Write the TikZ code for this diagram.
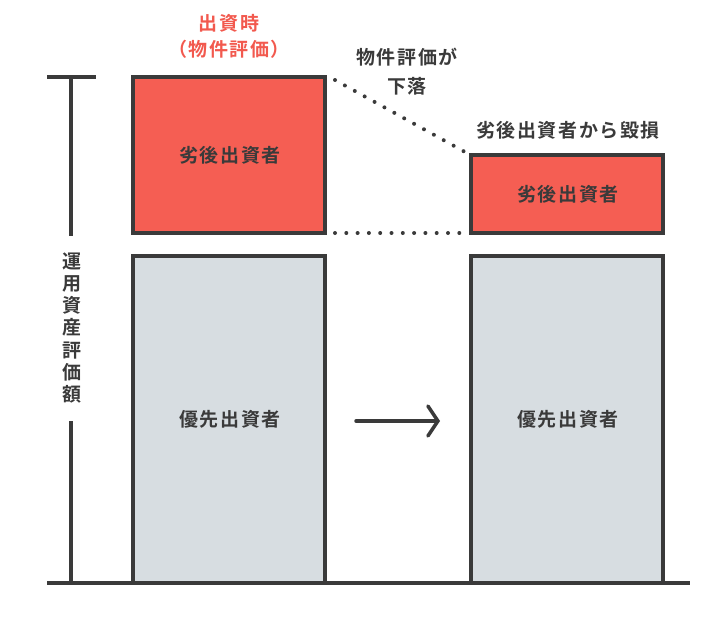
\documentclass[tikz,border=0pt]{standalone}
\usepackage{fontspec}
\setmainfont{Noto Sans CJK JP}[BoldFont={Noto Sans CJK JP Bold}, LetterSpace=8]
\usepackage{tikz}
\usetikzlibrary{calc, arrows.meta}

\definecolor{ink}{HTML}{3A3A3A}
\definecolor{subred}{HTML}{F55E53}
\definecolor{titlered}{HTML}{F2594E}
\definecolor{sengray}{HTML}{D7DDE1}

\tikzset{
  bar/.style={draw=ink, line width=4pt},
  lbl/.style={font=\fontsize{19}{22}\selectfont\bfseries, text=ink, align=center},
  dots/.style={ink, line width=4pt, line cap=round, dash pattern=on 0pt off 11.3pt}
}

\begin{document}
\begin{tikzpicture}[x=1pt, y=-1pt]
            \useasboundingbox (0,0) rectangle (728,618);
            % corners of the blocks
            \coordinate (A) at (133,77);
            \coordinate (B) at (325,233);
            \coordinate (C) at (471,155);
            \coordinate (D) at (663,233);
            \coordinate (E) at (133,256);
            \coordinate (F) at (325,583);
            \coordinate (G) at (471,256);
            \coordinate (H) at (663,583);
            \filldraw[bar, fill=subred] (A) rectangle (B);
            \filldraw[bar, fill=sengray] (E) rectangle (F);
            \filldraw[bar, fill=subred] (C) rectangle (D);
            \filldraw[bar, fill=sengray] (G) rectangle (H);
            \node[lbl] (sub1) at ($(A)!0.5!(B)+(1,0)$) {劣後出資者};
            \node[lbl] (sub2) at ($(C)!0.5!(D)+(1,0)$) {劣後出資者};
            \node[lbl] (sen1) at ($(E)!0.5!(F)+(1,0)$) {優先出資者};
            \node[lbl] (sen2) at ($(G)!0.5!(H)+(1,0)$) {優先出資者};
            % axis
            \coordinate (T) at (71,77);
            \coordinate (O) at (71,583);
            \draw[bar] (47,77) -- (96,77);
            \node[lbl, inner sep=0pt, font=\fontsize{19}{22.2}\selectfont\bfseries] (axis) at (72,328) {運\\用\\資\\産\\評\\価\\額};
            \draw[bar] (T) -- (71,236);
            \draw[bar] (71,421) -- (O);
            \draw[bar] (47,583) -- (690,583);
            % dotted guides
            \draw[dots] ($(A)+(202,3)$) -- ($(C)+(-6,-3)$);
            \draw[dots] ($(B)+(10,0)$) -- ($(C|-D)+(-6,0)$);
            % arrow
            \coordinate (P) at (356,421);
            \coordinate (Q) at (440,421);
            \draw[ink, line width=3.5pt, line cap=round, -{Straight Barb[length=10pt, width=30pt, line cap=round]}] (P) -- (Q);
            % texts
            \node[lbl, text=titlered, font=\fontsize{19}{26}\selectfont\bfseries] (title) at (229,36) {出資時\\（物件評価）};
            \node[lbl, font=\fontsize{19}{29}\selectfont\bfseries] (drop) at (407,72) {物件評価が\\下落};
            \node[lbl] (loss) at (568,130) {劣後出資者から毀損};
        \end{tikzpicture}
\end{document}
